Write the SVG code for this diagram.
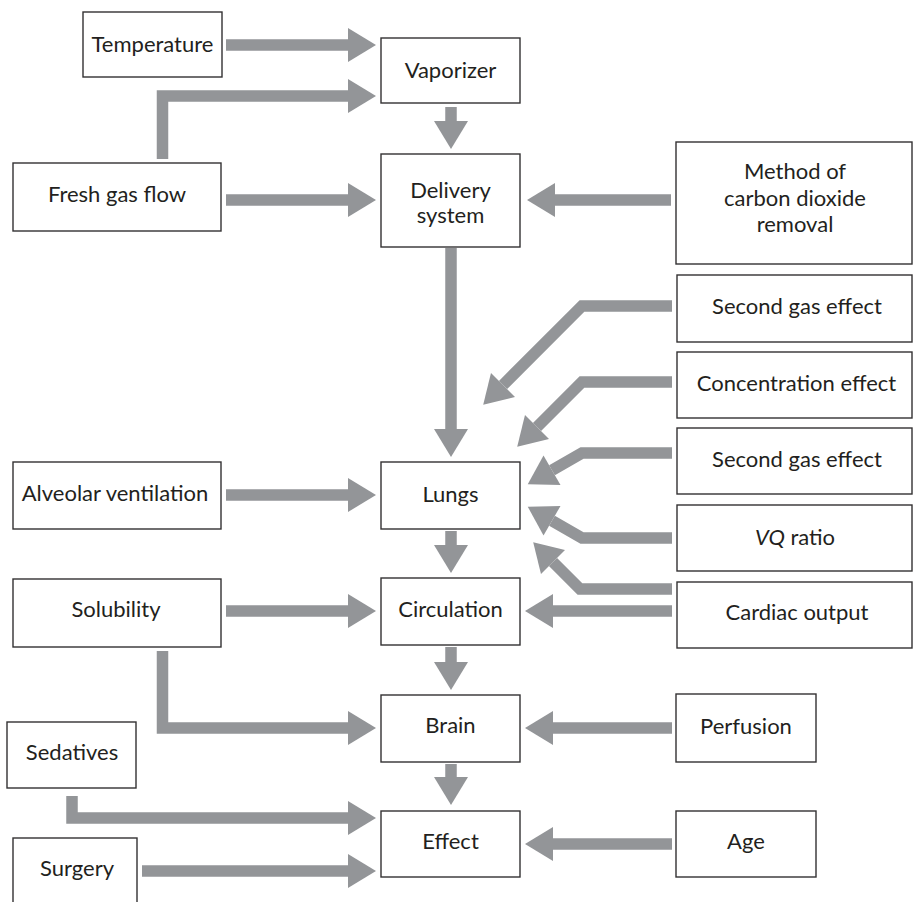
<svg xmlns="http://www.w3.org/2000/svg" width="913" height="902" viewBox="0 0 913 902">
<style>
.box{fill:#fff;stroke:#333132;stroke-width:1.4}
.t{font-family:Lato,"Open Sans","DejaVu Sans",sans-serif;font-size:22px;fill:#231f20;text-anchor:middle}
.a{fill:none;stroke:#939598;stroke-width:11.5;stroke-linejoin:miter;stroke-miterlimit:10;marker-end:url(#ah)}
</style>
<defs>
<marker id="ah" markerUnits="userSpaceOnUse" markerWidth="30" markerHeight="36" refX="0" refY="17" orient="auto" overflow="visible">
<path d="M0,0 L28,17 L0,34 Z" fill="#939598"/>
</marker>
</defs>
<rect width="913" height="902" fill="#fff"/>
<g id="connectors">
<path class="a" d="M226,45 H348"/>
<path class="a" d="M162.5,159 V96 H348"/>
<path class="a" d="M226,200 H348"/>
<path class="a" d="M451,107 V121"/>
<path class="a" d="M451,248 V429"/>
<path class="a" d="M671,200 H555"/>
<path class="a" d="M672,306 H582 L503,385"/>
<path class="a" d="M672,382 H582 L537,427"/>
<path class="a" d="M672,453 H582 L552,470.3"/>
<path class="a" d="M672,538 H582 L552,520.7"/>
<path class="a" d="M672,589 H580 L553,562"/>
<path class="a" d="M672,611 H553"/>
<path class="a" d="M672,728 H553"/>
<path class="a" d="M672,844 H553"/>
<path class="a" d="M226,495 H348"/>
<path class="a" d="M226,611 H348"/>
<path class="a" d="M162.5,651 V728 H348"/>
<path class="a" d="M72,796 V818 H348"/>
<path class="a" d="M142,871 H348"/>
<path class="a" d="M451,531 V545"/>
<path class="a" d="M451,647 V662"/>
<path class="a" d="M451,764 V777"/>
</g>
<g id="temperature"><rect class="box" x="83" y="12" width="139" height="65"/><text class="t" x="152.5" y="52">Temperature</text></g>
<g id="vaporizer"><rect class="box" x="381" y="38" width="139" height="65"/><text class="t" x="450.5" y="78">Vaporizer</text></g>
<g id="fresh-gas-flow"><rect class="box" x="13" y="163" width="208" height="68"/><text class="t" x="117" y="202">Fresh gas flow</text></g>
<g id="delivery-system"><rect class="box" x="381" y="154" width="139" height="93"/><text class="t" x="450.5" y="198">Delivery</text><text class="t" x="450.5" y="223">system</text></g>
<g id="method"><rect class="box" x="676" y="142" width="236" height="122"/><text class="t" x="795" y="179">Method of</text><text class="t" x="795" y="205.5">carbon dioxide</text><text class="t" x="795" y="232">removal</text></g>
<g id="second-gas-effect-1"><rect class="box" x="677" y="275" width="235" height="67"/><text class="t" x="797" y="314">Second gas effect</text></g>
<g id="concentration-effect"><rect class="box" x="677" y="352" width="235" height="66"/><text class="t" x="796.5" y="391">Concentration effect</text></g>
<g id="second-gas-effect-2"><rect class="box" x="677" y="428" width="235" height="66"/><text class="t" x="797" y="467">Second gas effect</text></g>
<g id="vq-ratio"><rect class="box" x="677" y="505" width="235" height="66"/><text class="t" x="795" y="545"><tspan font-style="italic">VQ</tspan> ratio</text></g>
<g id="cardiac-output"><rect class="box" x="677" y="582" width="235" height="66"/><text class="t" x="797" y="620">Cardiac output</text></g>
<g id="alveolar-ventilation"><rect class="box" x="13" y="462" width="208" height="67"/><text class="t" x="115" y="501">Alveolar ventilation</text></g>
<g id="lungs"><rect class="box" x="381" y="462" width="139" height="67"/><text class="t" x="450.5" y="502">Lungs</text></g>
<g id="solubility"><rect class="box" x="13" y="579" width="208" height="68"/><text class="t" x="116" y="617">Solubility</text></g>
<g id="circulation"><rect class="box" x="381" y="578" width="139" height="67"/><text class="t" x="450.5" y="617">Circulation</text></g>
<g id="brain"><rect class="box" x="381" y="695" width="139" height="67"/><text class="t" x="450.5" y="733">Brain</text></g>
<g id="perfusion"><rect class="box" x="676" y="694" width="140" height="68"/><text class="t" x="746" y="734">Perfusion</text></g>
<g id="sedatives"><rect class="box" x="7" y="722" width="129" height="66"/><text class="t" x="72" y="760">Sedatives</text></g>
<g id="effect"><rect class="box" x="381" y="811" width="139" height="66"/><text class="t" x="450.5" y="849">Effect</text></g>
<g id="age"><rect class="box" x="676" y="811" width="140" height="66"/><text class="t" x="746" y="849">Age</text></g>
<g id="surgery"><rect class="box" x="13" y="838" width="124" height="80"/><text class="t" x="77" y="876">Surgery</text></g>
</svg>
